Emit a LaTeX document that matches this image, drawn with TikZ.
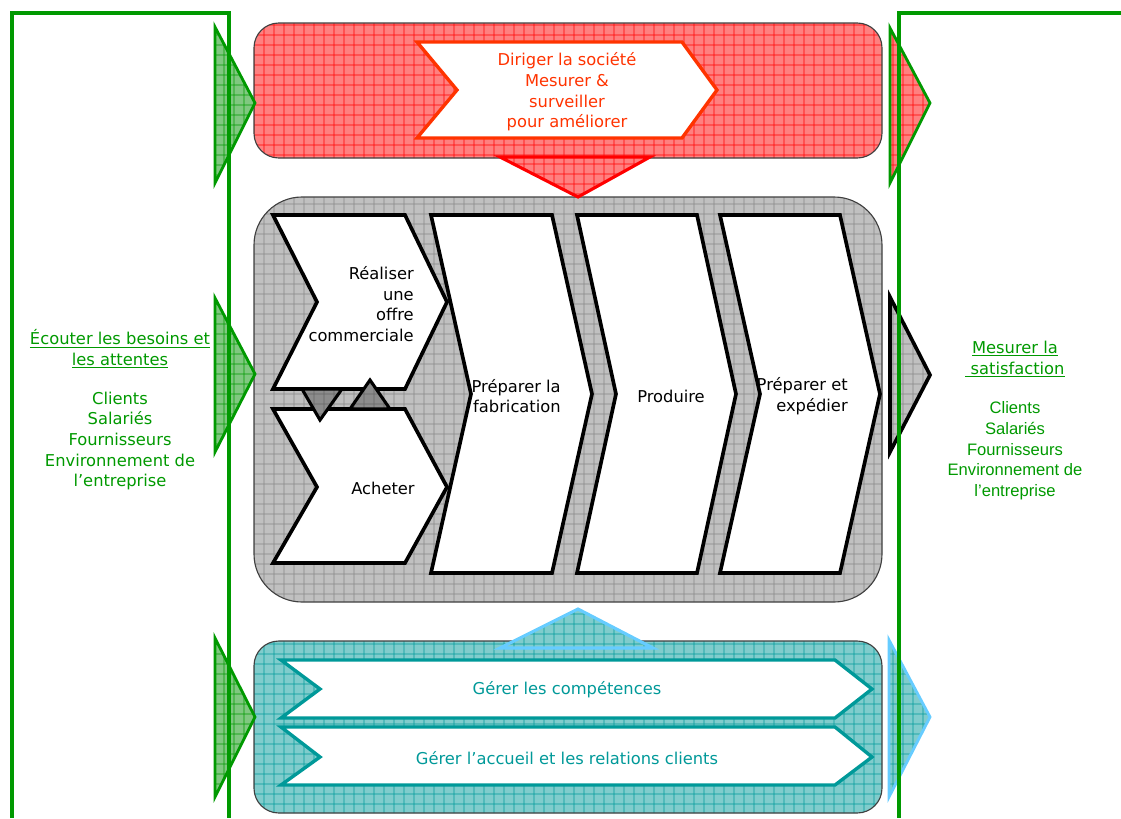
\documentclass[tikz,border=0pt]{standalone}
\usepackage{fontspec}
\setmainfont{DejaVu Sans}
\newfontfamily\arialfont{Liberation Sans}
\usetikzlibrary{patterns.meta}

\definecolor{leafgreen}{RGB}{0,153,0}
\definecolor{greenfill}{RGB}{128,200,128}
\definecolor{redfill}{RGB}{255,128,128}
\definecolor{redgrid}{RGB}{255,0,0}
\definecolor{leadred}{RGB}{255,51,0}
\definecolor{grayfill}{RGB}{192,192,192}
\definecolor{graygrid}{RGB}{135,135,135}
\definecolor{darkfill}{RGB}{140,140,140}
\definecolor{tealfill}{RGB}{128,204,204}
\definecolor{tealline}{RGB}{0,153,153}
\definecolor{skyline}{RGB}{102,204,255}

% grid of 10px cells laid over the fills
\tikzdeclarepattern{
  name=cellgrid,
  type=uncolored,
  bottom left={(0pt,0pt)},
  top right={(7.1pt,7.1pt)},
  tile size={(7.1pt,7.1pt)},
  code={
    \draw[line width=0.5pt] (0pt,3.55pt) -- (7.1pt,3.55pt);
    \draw[line width=0.5pt] (3.55pt,0pt) -- (3.55pt,7.1pt);
  }
}

\begin{document}
\begin{tikzpicture}[x=0.025cm,y=-0.025cm,
    redcells/.style={preaction={fill=redfill},pattern=cellgrid,pattern color=redgrid},
    graycells/.style={preaction={fill=grayfill},pattern=cellgrid,pattern color=graygrid},
    darkcells/.style={preaction={fill=darkfill},pattern=cellgrid,pattern color=black!60},
    tealcells/.style={preaction={fill=tealfill},pattern=cellgrid,pattern color=tealline},
    greencells/.style={preaction={fill=greenfill},pattern=cellgrid,pattern color=leafgreen},
    zone/.style={draw=black!75,line width=0.8pt,rounded corners=0.62cm},
    chevron/.style={draw=black,line width=2.6pt,fill=white},
    redchevron/.style={draw=leadred,line width=2.4pt,fill=white},
    tealchevron/.style={draw=tealline,line width=2.4pt,fill=white},
    frameline/.style={draw=leafgreen,line width=2.2pt},
    txt/.style={inner sep=0pt,font=\fontsize{11.6}{14.7}\selectfont}]
  \useasboundingbox (0,0) rectangle (1121,818);

  % process zones
  \draw[zone,redcells] (254,23) rectangle (882,158);
  \draw[zone,graycells,rounded corners=1.2cm] (254,197) rectangle (882,602);
  \draw[zone,tealcells] (254,641) rectangle (882,813);

  % entry arrows
  \draw[draw=leafgreen,line width=2pt,greencells] (215,27) -- (255,103) -- (215,183) -- cycle;
  \draw[draw=leafgreen,line width=2pt,greencells] (215,298) -- (255,374) -- (215,452) -- cycle;
  \draw[draw=leafgreen,line width=2pt,greencells] (215,638) -- (255,717) -- (215,797) -- cycle;
  % exit arrows
  \draw[draw=leafgreen,line width=2pt,redcells] (890,28) -- (930,103) -- (890,183) -- cycle;
  \draw[draw=black,line width=2.6pt,graycells] (890,297) -- (930,375) -- (890,452) -- cycle;
  \draw[draw=skyline,line width=2pt,tealcells] (889,640) -- (930,717) -- (889,797) -- cycle;

  % links between zones
  \draw[draw=redgrid,line width=2.2pt,redcells] (500,157) -- (650,157) -- (578,197) -- cycle;
  \draw[draw=skyline,line width=2.2pt,tealcells] (500,648) -- (653,648) -- (578,609) -- cycle;

  % management
  \draw[redchevron] (417,42) -- (682,42) -- (717,90) -- (682,138) -- (417,138) -- (457,90) -- cycle;
  \node[txt,text=leadred,align=center] (lead) at (567,92) {Diriger la société\\Mesurer \&\\surveiller\\pour améliorer};

  % realisation
  \draw[chevron] (273,215) -- (405,215) -- (447,302) -- (405,389) -- (273,389) -- (317,302) -- cycle;
  \draw[chevron] (273,409) -- (405,409) -- (447,487) -- (405,563) -- (273,563) -- (317,487) -- cycle;
  \draw[chevron] (431,215) -- (552,215) -- (592,394) -- (552,573) -- (431,573) -- (471,394) -- cycle;
  \draw[chevron] (577,215) -- (697,215) -- (736,394) -- (697,573) -- (577,573) -- (616,394) -- cycle;
  \draw[chevron] (720,215) -- (840,215) -- (880,394) -- (840,573) -- (720,573) -- (760,394) -- cycle;
  \draw[draw=black,line width=2.2pt,darkcells] (302,389) -- (342,389) -- (320,420) -- cycle;
  \draw[draw=black,line width=2.2pt,darkcells] (350,409) -- (390,409) -- (370,380) -- cycle;

  \node[txt,align=right,anchor=east] (offer) at (414,304) {Réaliser\\une\\offre\\commerciale};
  \node[txt] (buy) at (383,488) {Acheter};
  \node[txt,align=right,anchor=east] (prep) at (561,396) {Préparer la\\fabrication};
  \node[txt] (make) at (671,396) {Produire};
  \node[txt,align=right,anchor=east] (ship) at (848,396) {Préparer et\\expédier};

  % support
  \draw[tealchevron] (281,660) -- (835,660) -- (872,689) -- (835,718) -- (281,718) -- (320,689) -- cycle;
  \draw[tealchevron] (281,727) -- (835,727) -- (872,757) -- (835,785) -- (281,785) -- (320,757) -- cycle;
  \node[txt,text=tealline] (skills) at (567,690) {Gérer les compétences};
  \node[txt,text=tealline] (welcome) at (567,758) {Gérer l’accueil et les relations clients};

  % interested parties
  \draw[frameline] (12,818) -- (12,13) -- (229,13) -- (229,818);
  \draw[frameline] (1121,13) -- (899,13) -- (899,818);
  \node[txt,text=leafgreen,align=center] (listen) at (120,349) {\underline{Écouter les besoins et}\\\underline{les attentes}};
  \node[txt,text=leafgreen,align=center] (partiesin) at (120,441) {Clients\\Salariés\\Fournisseurs\\Environnement de\\l’entreprise};
  \node[txt,text=leafgreen,align=center] (measure) at (1015,359) {\underline{Mesurer la}\\\underline{~satisfaction}};
  \node[txt,text=leafgreen,align=center,font=\arialfont\fontsize{11.8}{14.7}\selectfont] (partiesout) at (1015,451) {Clients\\Salariés\\Fournisseurs\\Environnement de\\l’entreprise};
\end{tikzpicture}
\end{document}
